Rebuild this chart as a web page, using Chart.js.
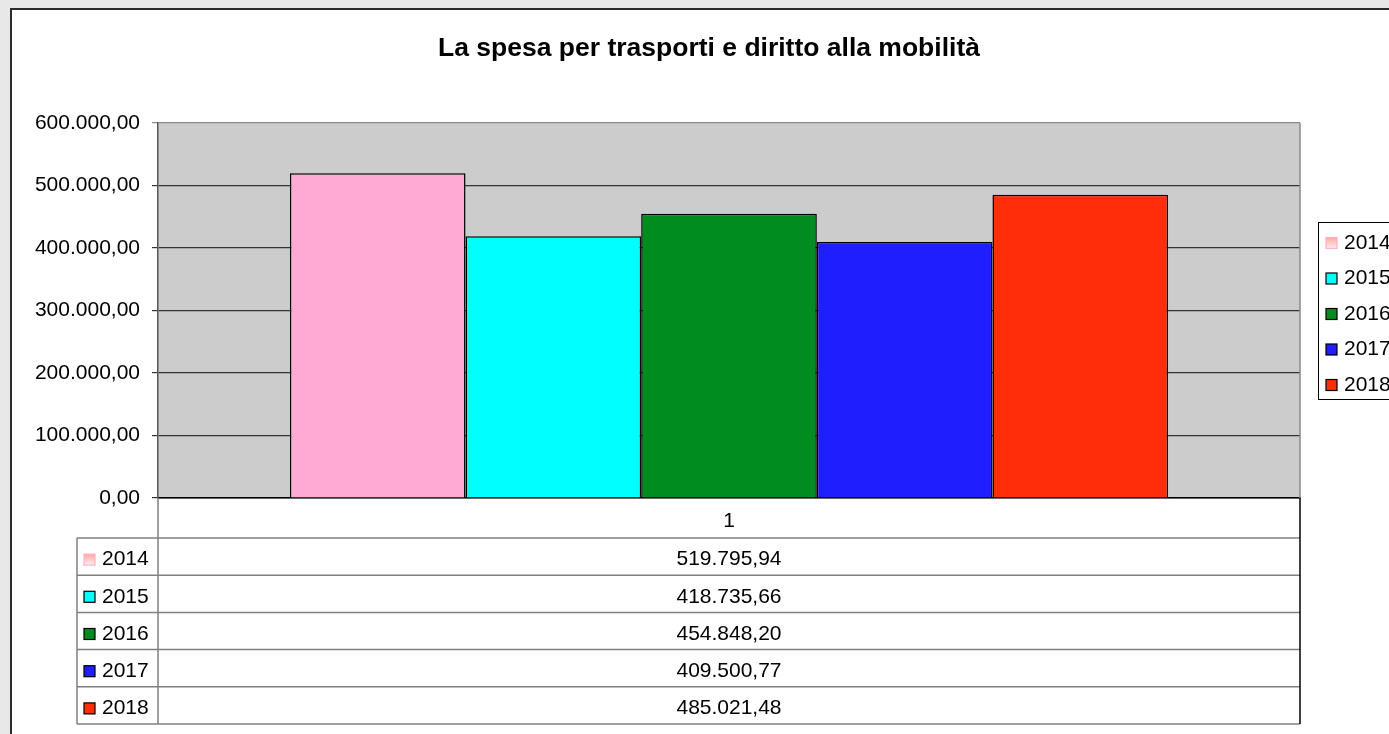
<!DOCTYPE html>
<html lang="it">
<head>
<meta charset="utf-8">
<title>La spesa per trasporti e diritto alla mobilità</title>
<script src="https://cdn.jsdelivr.net/npm/chart.js@4.4.1/dist/chart.umd.min.js"></script>
<style>
    html, body { margin: 0; padding: 0; overflow: hidden; background: #e8e8e8; }
    #frame { position: absolute; left: 10px; top: 8px; width: 1500px; height: 800px; background: #fff; border: 2px solid #2b2b2b; }
    #chart { position: absolute; left: 0; top: 0; }
</style>
</head>
<body>
<div id="frame"></div>
<canvas id="chart" width="1389" height="734"></canvas>
<script>
const title = "La spesa per trasporti e diritto alla mobilità";
const categories = ["1"];
const years = ["2014", "2015", "2016", "2017", "2018"];
const values = [519795.94, 418735.66, 454848.2, 409500.77, 485021.48];
const colors = ["#ffaad5", "#00ffff", "#008c1e", "#1e1eff", "#ff2d0a"];
const yMin = 0;
const yMax = 600000;
const yStep = 100000;

const FONT = "'Liberation Sans', Arial, sans-serif";

// formato italiano: 519.795,94
function fmt(v) {
    const parts = v.toFixed(2).split(".");
    parts[0] = parts[0].replace(/\B(?=(\d{3})+(?!\d))/g, ".");
    return parts.join(",");
}

function drawIcon(ctx, x, y, i) {
    const s = 11;
    if (i === 0) {
        const g = ctx.createLinearGradient(0, y - s / 2, 0, y + s / 2);
        g.addColorStop(0, "#ffa898");
        g.addColorStop(1, "#ffeef2");
        ctx.fillStyle = g;
        ctx.fillRect(x, y - s / 2, s, s);
        ctx.strokeStyle = "#ffb0cc";
    } else {
        ctx.fillStyle = colors[i];
        ctx.fillRect(x, y - s / 2, s, s);
        ctx.strokeStyle = "#000";
    }
    ctx.lineWidth = 1.2;
    ctx.strokeRect(x, y - s / 2, s, s);
}

// sfondo grigio dell'area del grafico
const plotBg = {
    id: "plotBg",
    beforeDraw(chart) {
        const { ctx, chartArea: a } = chart;
        ctx.save();
        ctx.fillStyle = "#cccccc";
        ctx.fillRect(a.left, a.top, a.right - a.left, a.bottom - a.top);
        ctx.restore();
    },
};

// titolo, tabella dati e legenda
const extras = {
    id: "extras",
    afterDraw(chart) {
        const { ctx, chartArea: a } = chart;
        const xs = chart.scales.x;
        ctx.save();

        // titolo
        ctx.fillStyle = "#000";
        ctx.font = "bold 26.5px " + FONT;
        ctx.textAlign = "center";
        ctx.textBaseline = "middle";
        ctx.fillText(title, 709, 49);

        // bordo destro del grafico
        ctx.strokeStyle = "#8a8a8a";
        ctx.lineWidth = 1.5;
        ctx.beginPath();
        ctx.moveTo(a.right, a.top);
        ctx.lineTo(a.right, a.bottom);
        ctx.stroke();

        // tabella dati
        const top = xs.bottom;
        const rowH = 37.2;
        const left = a.left - 81;
        const bottom = top + rowH * years.length;
        ctx.strokeStyle = "#808080";
        ctx.lineWidth = 1.5;
        for (let i = 0; i <= years.length; i++) {
            const y = top + i * rowH;
            ctx.beginPath();
            ctx.moveTo(left, y);
            ctx.lineTo(a.right, y);
            ctx.stroke();
        }
        ctx.beginPath();
        ctx.moveTo(left, top);
        ctx.lineTo(left, bottom);
        ctx.moveTo(a.left, a.bottom);
        ctx.lineTo(a.left, bottom);
        ctx.stroke();
        ctx.strokeStyle = "#000";
        ctx.beginPath();
        ctx.moveTo(a.right, a.bottom);
        ctx.lineTo(a.right, bottom);
        ctx.stroke();

        ctx.font = "21px " + FONT;
        chart.data.datasets.forEach((ds, i) => {
            const cy = top + i * rowH + rowH / 2 + 3;
            drawIcon(ctx, left + 7, cy, i);
            ctx.fillStyle = "#000";
            ctx.textAlign = "left";
            ctx.fillText(ds.label, left + 25, cy);
            ctx.textAlign = "center";
            ctx.fillText(fmt(ds.data[0]), (a.left + a.right) / 2, cy);
        });

        // legenda a destra
        const lx = a.right + 18;
        const lh = 177;
        const ly = (a.top + a.bottom) / 2 - lh / 2;
        ctx.fillStyle = "#fff";
        ctx.fillRect(lx, ly, 200, lh);
        ctx.strokeStyle = "#000";
        ctx.lineWidth = 1;
        ctx.strokeRect(lx + 0.5, ly + 0.5, 200, lh);
        chart.data.datasets.forEach((ds, i) => {
            const cy = ly + 21 + i * 35.5;
            drawIcon(ctx, lx + 8, cy, i);
            ctx.fillStyle = "#000";
            ctx.textAlign = "left";
            ctx.fillText(ds.label, lx + 26, cy);
        });

        ctx.restore();
    },
};

new Chart(document.getElementById("chart"), {
    type: "bar",
    data: {
        labels: categories,
        datasets: years.map((y, i) => ({
            label: y,
            data: [values[i]],
            backgroundColor: colors[i],
            borderColor: "#000",
            borderWidth: 1.5,
            barPercentage: 1,
            categoryPercentage: 0.769,
        })),
    },
    options: {
        responsive: false,
        animation: false,
        layout: { padding: { left: 12, right: 89, top: 123, bottom: 196 } },
        plugins: {
            legend: { display: false },
            title: { display: false },
            tooltip: { enabled: false },
        },
        scales: {
            x: {
                grid: { display: false },
                border: { color: "#000", width: 1.5 },
                ticks: { color: "#000", padding: 3, font: { family: FONT, size: 21 } },
                afterFit(scale) { scale.height = 40; },
            },
            y: {
                min: yMin,
                max: yMax,
                ticks: {
                    stepSize: yStep,
                    color: "#000",
                    padding: 12,
                    font: { family: FONT, size: 21 },
                    callback: (v) => fmt(v),
                },
                grid: {
                    color: (c) => (c.tick && c.tick.value === yMax ? "#8a8a8a" : "#333"),
                    lineWidth: 1.2,
                    tickLength: 6,
                },
                border: { color: "#555", width: 1.5 },
                afterFit(scale) { scale.width = 146; },
            },
        },
    },
    plugins: [plotBg, extras],
});
</script>
</body>
</html>
